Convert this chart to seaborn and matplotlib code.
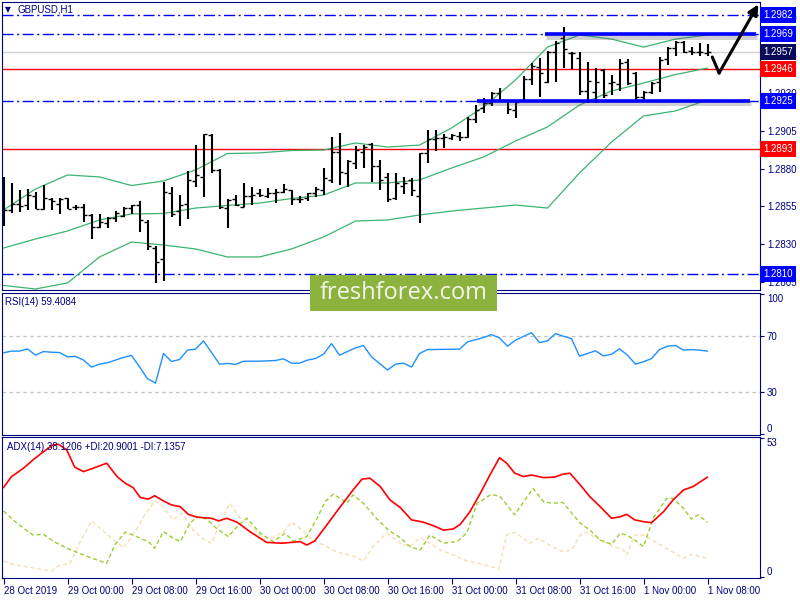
import numpy as np
import pandas as pd
import matplotlib
matplotlib.use("Agg")
import matplotlib.pyplot as plt
import matplotlib.patheffects as pe
from matplotlib.patches import Rectangle
from matplotlib.transforms import blended_transform_factory
import seaborn as sns

# ---------------- data ----------------
bar_open = [1.2856, 1.28526, 1.28564, 1.2856, 1.28619, 1.28531, 1.28599, 1.28566, 1.28604, 1.28544,
            1.28544, 1.28491, 1.28415, 1.28438, 1.28471, 1.28486, 1.28541, 1.2856, 1.28449, 1.28272,
            1.282, 1.28641, 1.28521, 1.28564, 1.28718, 1.28747, 1.29023, 1.28791, 1.28537, 1.28597,
            1.28548, 1.28619, 1.28641, 1.28619, 1.28641, 1.28647, 1.28658, 1.28597, 1.28604, 1.28637,
            1.28658, 1.28725, 1.28912, 1.28769, 1.28839, 1.28912, 1.28963, 1.28819, 1.28747, 1.28604,
            1.28685, 1.28725, 1.28619, 1.28902, 1.28994, 1.29001, 1.29001, 1.29016, 1.29007, 1.29127,
            1.292, 1.29237, 1.29299, 1.29255, 1.29188, 1.29255, 1.29392, 1.29475, 1.29376, 1.29574,
            1.29663, 1.29564, 1.29531, 1.29316, 1.29309, 1.29453, 1.29365, 1.2936, 1.29508, 1.29431,
            1.29272, 1.29309, 1.29376, 1.29524, 1.29597, 1.29641, 1.29581, 1.29574, 1.29568]
bar_high = [1.28747, 1.28707, 1.28658, 1.28663, 1.28647, 1.2869, 1.28604, 1.28604, 1.28604, 1.28557,
            1.28566, 1.28498, 1.28498, 1.28478, 1.28519, 1.28544, 1.2856, 1.28588, 1.2846, 1.28288,
            1.28713, 1.2868, 1.28625, 1.28784, 1.28956, 1.29029, 1.29029, 1.28796, 1.28597, 1.28625,
            1.28707, 1.28676, 1.28663, 1.2867, 1.28663, 1.28698, 1.28658, 1.28619, 1.28641, 1.28676,
            1.28802, 1.29011, 1.29038, 1.28857, 1.2895, 1.28956, 1.28968, 1.28857, 1.28773, 1.28773,
            1.28747, 1.28736, 1.28905, 1.29056, 1.29056, 1.29029, 1.29029, 1.29045, 1.2914, 1.29221,
            1.29266, 1.29309, 1.29332, 1.29255, 1.29255, 1.29413, 1.29498, 1.29531, 1.29581, 1.29647,
            1.29736, 1.29574, 1.29574, 1.29508, 1.29464, 1.29458, 1.2942, 1.29524, 1.29524, 1.29442,
            1.29316, 1.29376, 1.29541, 1.29607, 1.29647, 1.29647, 1.29607, 1.2963, 1.29625]
bar_low = [1.2842, 1.28504, 1.28515, 1.28526, 1.28535, 1.28526, 1.28526, 1.28498, 1.28535, 1.28526,
           1.28447, 1.28336, 1.28405, 1.28405, 1.28447, 1.28482, 1.28498, 1.2838, 1.28261, 1.28045,
           1.28058, 1.28482, 1.2842, 1.28464, 1.28676, 1.28614, 1.28773, 1.28531, 1.28405, 1.28553,
           1.28544, 1.2856, 1.28614, 1.28604, 1.28574, 1.28637, 1.2856, 1.28574, 1.28588, 1.2861,
           1.28625, 1.28703, 1.28692, 1.2868, 1.28796, 1.28802, 1.28713, 1.28658, 1.28581, 1.28592,
           1.28632, 1.28619, 1.28438, 1.28835, 1.28919, 1.28935, 1.2899, 1.28985, 1.29001, 1.29104,
           1.2917, 1.29215, 1.29243, 1.29162, 1.29133, 1.29243, 1.29354, 1.29272, 1.29369, 1.29376,
           1.29464, 1.29458, 1.29288, 1.29233, 1.29237, 1.29266, 1.29288, 1.29316, 1.29354, 1.29255,
           1.2925, 1.29294, 1.29309, 1.29486, 1.29546, 1.29564, 1.29553, 1.29546, 1.29546]
bar_close = [1.28526, 1.28564, 1.28553, 1.28625, 1.28535, 1.28605, 1.28588, 1.28597, 1.28535, 1.28544,
             1.28491, 1.28415, 1.28449, 1.28471, 1.28504, 1.28541, 1.2856, 1.2846, 1.28288, 1.28184,
             1.28647, 1.285, 1.2856, 1.28725, 1.28758, 1.29029, 1.28791, 1.28548, 1.28592, 1.2856,
             1.28619, 1.28625, 1.28625, 1.28641, 1.28647, 1.28663, 1.28597, 1.28597, 1.28637, 1.28663,
             1.28736, 1.28912, 1.2878, 1.28853, 1.28923, 1.28945, 1.28819, 1.28725, 1.28597, 1.28703,
             1.28703, 1.28658, 1.28902, 1.28994, 1.29001, 1.29011, 1.29023, 1.29011, 1.29127, 1.29188,
             1.29237, 1.29303, 1.29255, 1.29193, 1.29243, 1.29392, 1.2948, 1.29431, 1.29574, 1.2963,
             1.2959, 1.29564, 1.29316, 1.29382, 1.29376, 1.29288, 1.29376, 1.29502, 1.29365, 1.29272,
             1.29309, 1.29369, 1.29519, 1.29597, 1.29641, 1.29574, 1.29574, 1.29574, 1.2957]

# Bollinger bands read every 4 bars
band_pos = [0, 4, 8, 12, 16, 20, 24, 28, 32, 36, 40, 44, 48, 52, 56, 60, 64, 68, 72, 76, 80, 84, 88]
bb_upper = [1.28526, 1.28665, 1.28758, 1.28745, 1.28688, 1.28718, 1.28791, 1.289, 1.28904, 1.2892,
            1.28923, 1.2897, 1.28943, 1.28956, 1.29069, 1.29208, 1.29387, 1.29605, 1.29685, 1.29658,
            1.29605, 1.29658, 1.29685]
bb_middle = [1.28274, 1.28334, 1.28387, 1.2846, 1.285, 1.28503, 1.28539, 1.28556, 1.28572, 1.28602,
             1.28625, 1.28705, 1.28705, 1.28725, 1.28804, 1.28877, 1.28983, 1.29076, 1.29221, 1.29314,
             1.29367, 1.29423, 1.29466]
bb_lower = [1.28026, 1.28003, 1.28043, 1.28215, 1.28314, 1.28294, 1.28268, 1.28215, 1.28215, 1.28268,
            1.28347, 1.28453, 1.2846, 1.28493, 1.28519, 1.28539, 1.28559, 1.28539, 1.28771, 1.28976,
            1.29149, 1.29182, 1.29255]

# RSI(14)
rsi_pos = [0, 1, 2, 3, 4, 5, 6, 7, 8, 9, 10, 11, 12, 13, 14, 15, 16, 17, 18, 19, 20, 21, 22, 23, 24, 25,
           27, 28, 29, 30, 32, 34, 35, 36, 37, 38, 39, 40, 41, 42, 44, 45, 46, 48, 49, 50, 51, 52, 53,
           57, 58, 60, 61, 62, 63, 64, 66, 67, 68, 69, 70, 71, 72, 73, 74, 75, 76, 77, 78, 79, 80, 81,
           82, 83, 84, 85, 86, 87, 88]
rsi_val = [58.2, 59.4, 59.4, 61.0, 56.5, 59.1, 58.6, 58.4, 55.3, 55.6, 53.0, 48.0, 50.1, 51.1, 53.0,
           54.9, 56.3, 48.2, 39.7, 36.6, 57.7, 52.0, 53.4, 60.1, 60.8, 66.7, 50.1, 50.6, 49.9, 52.2,
           52.2, 52.7, 53.9, 50.8, 50.8, 53.0, 54.1, 57.2, 64.8, 56.5, 61.7, 63.4, 55.3, 45.9, 50.1,
           50.8, 48.0, 57.7, 60.5, 60.8, 66.0, 69.1, 71.2, 68.8, 62.9, 67.2, 72.6, 65.5, 66.7, 71.9,
           70.0, 68.3, 55.8, 57.7, 59.6, 56.0, 57.2, 61.0, 56.5, 50.1, 51.8, 54.1, 60.5, 62.9, 63.4,
           60.1, 60.5, 60.1, 59.4]

# ADX(14)
adx_pos = [0, 1, 2.5, 3.7, 5, 6.2, 6.9, 7.9, 8.9, 10, 11.2, 12.9, 14.2, 15.2, 16.2, 17.1, 18.1, 18.9, 20, 21,
           22.1, 23.1, 24.2, 26, 26.9, 27.9, 29.2, 30.8, 32.9, 34.8, 36, 37.1, 37.9, 38.9, 40.4, 42.1, 43.7,
           44.8, 45.8, 47.1, 48.3, 49.6, 51, 52.5, 53.7, 55, 56.2, 57.1, 58.3, 59.6, 60.8, 62, 62.9, 63.9,
           65, 66, 67.5, 68.9, 69.9, 70.8, 72.1, 73.3, 74.6, 76, 77.1, 77.9, 78.9, 80, 81, 82.5, 83.7, 85,
           86.2, 88]
adx_val = [34.1, 38.3, 41.5, 44.7, 47.8, 50.4, 50.6, 48.5, 41.9, 40.2, 41.5, 43.4, 38.3, 35.8, 34.1, 30.3,
           29.7, 31.0, 29.0, 27.5, 26.8, 23.9, 22.8, 22.4, 21.4, 22.4, 20.9, 17.3, 13.2, 12.9, 13.2, 13.5,
           12.2, 13.7, 19.8, 26.8, 33.2, 37.3, 37.7, 34.5, 29.4, 26.5, 21.8, 20.9, 19.6, 17.9, 18.3, 20.1,
           24.9, 31.9, 38.9, 45.5, 43.4, 39.6, 38.3, 38.9, 37.9, 38.1, 39.2, 39.6, 35.1, 30.6, 26.8, 22.4,
           23.0, 23.9, 21.8, 21.1, 20.7, 24.9, 29.4, 33.2, 34.5, 38.1]
pdi_pos = [0, 1.2, 2.5, 3.7, 5, 6.2, 7.9, 10, 11.7, 12.9, 13.9, 15.2, 16.2, 17.1, 18.1, 18.9, 20, 21.2, 22.1,
           23.3, 24.2, 25.4, 26.6, 28.1, 29.2, 30.4, 32.1, 33.7, 35.2, 36.2, 37.9, 39.2, 40.2, 41.2, 42.1,
           42.9, 43.7, 45, 46.6, 48.1, 49.6, 50.8, 52.1, 53.3, 55, 56.7, 57.9, 59.2, 61, 62.1, 63.9, 65,
           66.2, 67.5, 68.7, 69.9, 72.1, 73.3, 74.6, 76, 77.1, 77.9, 78.9, 80, 81.2, 82.9, 83.7, 85, 86,
           86.8, 88]
pdi_val = [25.2, 21.8, 18.6, 16.0, 16.3, 13.7, 11.0, 8.4, 6.5, 5.2, 12.2, 17.1, 16.0, 14.8, 13.5, 11.0,
           17.3, 14.8, 13.5, 20.5, 23.0, 22.1, 18.6, 15.4, 19.2, 22.4, 16.7, 13.5, 16.7, 13.7, 15.4, 22.4,
           28.7, 31.6, 30.0, 28.1, 31.3, 28.1, 22.4, 17.9, 15.0, 11.6, 10.3, 16.0, 12.9, 13.5, 16.7, 28.1,
           31.6, 30.6, 23.7, 28.7, 33.8, 28.7, 28.1, 28.5, 20.5, 17.9, 14.1, 12.5, 16.7, 16.0, 14.1, 11.6,
           22.4, 30.0, 30.0, 26.2, 22.1, 23.7, 20.9]
mdi_pos = [0, 1.2, 3.7, 5, 6, 7.1, 8.3, 9.6, 11, 12.1, 13.3, 15, 16.2, 17.5, 18.9, 20, 21.2, 22.3, 23.7, 24.8,
           26, 27.1, 28.3, 29.6, 31.2, 32.5, 33.7, 35, 36, 37.3, 38.7, 40, 41.7, 43.7, 45, 46.2, 47.9, 49.6,
           50.8, 52.1, 52.9, 54.6, 56.2, 57.9, 60, 61.9, 62.9, 63.9, 65.8, 66.9, 68.5, 69.9, 71, 72.1,
           72.7, 74.2, 75.8, 77.5, 77.9, 78.9, 80, 82.5, 85, 86, 88]
mdi_val = [6.1, 4.8, 3.5, 2.7, 2.3, 4.6, 5.2, 13.5, 21.4, 18.6, 15.4, 11.2, 16.0, 23.0, 29.0, 26.8, 21.8,
           24.3, 17.9, 14.8, 12.9, 21.1, 28.1, 22.4, 18.6, 14.8, 15.0, 17.3, 20.9, 17.9, 14.1, 12.2, 9.4,
           8.1, 6.1, 11.6, 16.7, 12.9, 11.6, 15.0, 13.7, 10.3, 8.4, 6.1, 4.8, 3.1, 16.0, 17.1, 12.9, 14.8,
           11.6, 9.7, 10.3, 16.0, 17.1, 14.8, 12.2, 10.3, 8.4, 16.0, 16.0, 11.6, 7.1, 8.7, 7.1]

time_tick_pos = [0, 8, 16, 24, 32, 40, 48, 56, 64, 72, 80, 88]
time_tick_labels = ["28 Oct 2019", "29 Oct 00:00", "29 Oct 08:00", "29 Oct 16:00", "30 Oct 00:00",
                    "30 Oct 08:00", "30 Oct 16:00", "31 Oct 00:00", "31 Oct 08:00", "31 Oct 16:00",
                    "1 Nov 00:00", "1 Nov 08:00"]
price_ticks = [1.2805, 1.2830, 1.2855, 1.2880, 1.2905, 1.2930, 1.2955, 1.2980]
level_dashdot = [1.2982, 1.2969, 1.2925, 1.2810]
level_red = [1.2946, 1.2893]
level_bid = 1.2957
rsi_levels = [70, 30]

# ---------------- style ----------------
sns.set_theme(style="white")
plt.rcParams["font.family"] = ["Liberation Sans", "DejaVu Sans"]
plt.rcParams["lines.scale_dashes"] = False
NAVY = "#000080"
BLUE = "#0000ff"
RED = "#ff0000"
GREEN = "#3cb371"

W, H = 800, 600
fig = plt.figure(figsize=(8, 6), dpi=100)
fig.patch.set_facecolor("white")


def rect(x0, y0, x1, y1):
    return [x0 / W, 1 - y1 / H, (x1 - x0) / W, (y1 - y0) / H]


ax_main = fig.add_axes(rect(2, 2, 760, 290))
ax_rsi = fig.add_axes(rect(2, 293, 760, 435))
ax_adx = fig.add_axes(rect(2, 437, 760, 578))

XL = (-0.1875, 94.5625)
for ax in (ax_main, ax_rsi, ax_adx):
    ax.set_facecolor("white")
    ax.set_xlim(*XL)
    for s in ax.spines.values():
        s.set_color(NAVY)
        s.set_linewidth(0.8)
    ax.grid(False)
    ax.yaxis.tick_right()
    ax.tick_params(axis="y", which="both", left=False, right=True, direction="out", length=3,
                   width=0.8, color=NAVY, labelcolor=NAVY, labelsize=7, pad=2)
    ax.tick_params(axis="x", bottom=False, top=False, labelbottom=False)

# ---------------- main panel ----------------
ax_main.set_ylim(1.279962, 1.299035)
xb = np.arange(len(bar_close))
df = pd.DataFrame({"pos": xb, "open": bar_open, "high": bar_high, "low": bar_low, "close": bar_close})

for lvl in level_dashdot:
    ax_main.axhline(lvl, color=BLUE, lw=1.0, ls=(0, (8, 2.5, 1.5, 2.5)), zorder=1)
for lvl in level_red:
    ax_main.axhline(lvl, color=RED, lw=1.0, zorder=1)
ax_main.axhline(level_bid, color="#d0d0d0", lw=1.0, zorder=1)

bands = pd.DataFrame({"pos": band_pos, "upper": bb_upper, "middle": bb_middle, "lower": bb_lower})
for col in ["upper", "middle", "lower"]:
    sns.lineplot(data=bands, x="pos", y=col, ax=ax_main, color=GREEN, lw=0.9, legend=False, zorder=2)

ax_main.vlines(df["pos"], df["low"], df["high"], color="black", lw=1.5, zorder=3)
ax_main.hlines(df["open"], df["pos"] - 0.4, df["pos"], color="black", lw=1.0, zorder=3)
ax_main.hlines(df["close"], df["pos"], df["pos"] + 0.4, color="black", lw=1.0, zorder=3)

shadow = [pe.SimpleLineShadow(offset=(1.0, -2.0), shadow_color="#606060", alpha=0.3, linewidth=3.5),
          pe.Normal()]
ax_main.plot([67.7, 94.0], [1.2969, 1.2969], color=BLUE, lw=2.6, solid_capstyle="butt",
             path_effects=shadow, zorder=4)
ax_main.plot([59.2, 93.3], [1.2925, 1.2925], color=BLUE, lw=2.6, solid_capstyle="butt",
             path_effects=shadow, zorder=4)

# forecast arrow
ax_main.plot([88.6, 89.45], [1.29539, 1.29433], color="black", lw=2.2, solid_capstyle="round",
             zorder=6, clip_on=False)
ax_main.annotate("", xy=(94.35, 1.29888), xytext=(89.45, 1.29433),
                 arrowprops=dict(arrowstyle="-|>", color="black", lw=2.2, mutation_scale=15,
                                 shrinkA=0, shrinkB=0),
                 annotation_clip=False, zorder=6)

ax_main.set_yticks(price_ticks)
ax_main.set_yticklabels([f"{t:.4f}" for t in price_ticks])
ax_main.set_xlabel("")
ax_main.set_ylabel("")

tr = blended_transform_factory(ax_main.transAxes, ax_main.transData)
boxes = [(1.2982, BLUE), (1.2969, BLUE), (1.2957, "#0a0a5a"), (1.2946, RED), (1.2925, BLUE),
         (1.2893, RED), (1.2810, BLUE)]
for val, bg in boxes:
    ax_main.text(1.0045, val, f"{val:.4f}", transform=tr, color="white", fontsize=7, ha="left",
                 va="center", clip_on=False, zorder=10,
                 bbox=dict(boxstyle="square,pad=0.3", fc=bg, ec="none"))

# ---------------- RSI ----------------
rsi_df = pd.DataFrame({"pos": rsi_pos, "rsi": rsi_val})
ax_rsi.set_ylim(-0.5, 100.9)
for lvl in rsi_levels:
    ax_rsi.axhline(lvl, color="#c0c0c0", lw=0.9, ls=(0, (2.5, 2.5)), zorder=1)
sns.lineplot(data=rsi_df, x="pos", y="rsi", ax=ax_rsi, color="#1e90ff", lw=1.0, legend=False, zorder=3)
ax_rsi.set_yticks([0, 30, 70, 100])
ax_rsi.set_yticklabels(["0", "30", "70", "100"])
lbls = ax_rsi.get_yticklabels()
lbls[0].set_va("bottom")
lbls[-1].set_va("top")
ax_rsi.set_xlabel("")
ax_rsi.set_ylabel("")

# ---------------- ADX ----------------
ax_adx.set_ylim(-0.38, 53.4)
sns.lineplot(x=mdi_pos, y=mdi_val, ax=ax_adx, color="#f5deb3", lw=1.0, ls=(0, (3, 2)), legend=False)
sns.lineplot(x=pdi_pos, y=pdi_val, ax=ax_adx, color="#9acd32", lw=1.0, ls=(0, (3, 2)), legend=False)
sns.lineplot(x=adx_pos, y=adx_val, ax=ax_adx, color=RED, lw=1.2, legend=False)
ax_adx.set_yticks([0, 53])
ax_adx.set_yticklabels(["0", "53"])
l2 = ax_adx.get_yticklabels()
l2[0].set_va("bottom")
l2[1].set_va("top")
ax_adx.set_xlabel("")
ax_adx.set_ylabel("")
ax_adx.set_xlim(*XL)
ax_adx.set_xticks(time_tick_pos)
ax_adx.set_xticklabels(time_tick_labels)
ax_adx.tick_params(axis="x", bottom=True, labelbottom=True, direction="out", length=4, width=0.8,
                   color=NAVY, labelcolor=NAVY, labelsize=7, pad=2)
for lb in ax_adx.get_xticklabels():
    lb.set_horizontalalignment("left")

# ---------------- texts ----------------
def ftext(x, y, s, **kw):
    fig.text(x / W, 1 - y / H, s, **kw)

ftext(5, 10, "\u25bc", color=NAVY, fontsize=5.5, va="center", ha="left", family=["DejaVu Sans"])
ftext(17, 10, "GBPUSD,H1", color=NAVY, fontsize=7, va="center", ha="left")
ftext(5, 302, "RSI(14) 59.4084", color=NAVY, fontsize=7, va="center", ha="left")
ftext(7, 447, "ADX(14) 38.1206 +DI:20.9001 -DI:7.1357", color=NAVY, fontsize=7, va="center", ha="left")

# watermark
fig.add_artist(Rectangle((310 / W, 1 - 311 / H), 187 / W, 36 / H, transform=fig.transFigure,
                         fc="#8db33f", ec="none", zorder=20))
fig.text(403.5 / W, 1 - 293 / H, "freshforex.com", color="#f4f6ee", fontsize=17, ha="center",
         va="center", zorder=21, family=["Open Sans", "DejaVu Sans"])

fig.savefig("out.png", dpi=100, facecolor="white")
